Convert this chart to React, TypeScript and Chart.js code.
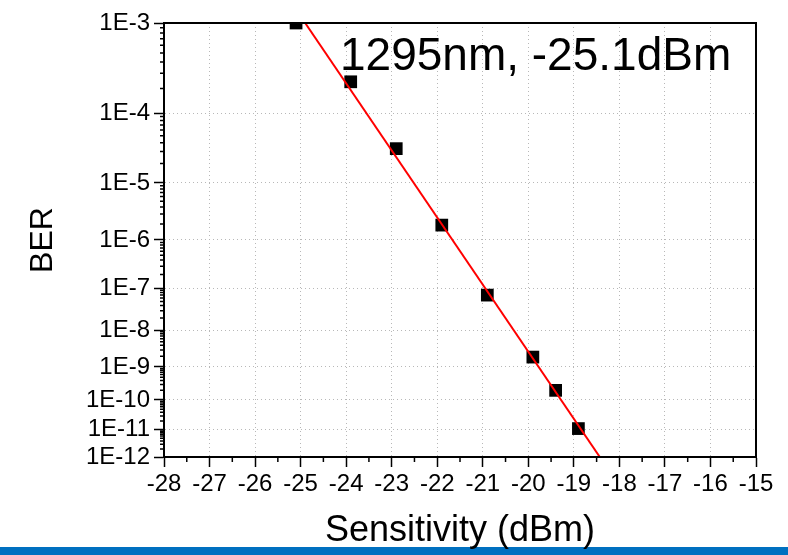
import React, { useEffect, useRef } from "react";
import { Chart, registerables } from "chart.js";

Chart.register(...registerables);

// ---- data ----
const sensitivity = [-25.1, -23.9, -22.9, -21.9, -20.9, -19.9, -19.4, -18.9];
const ber = [1e-3, 2.4e-4, 3.3e-5, 1.9e-6, 7e-8, 1.9e-9, 2e-10, 1.1e-11];
const fitX = [-24.9, -18.43];
const fitBer = [1e-3, 1e-12];
const xTicks = [-28, -27, -26, -25, -24, -23, -22, -21, -20, -19, -18, -17, -16, -15];
const yTickValues = [1e-3, 1e-4, 1e-5, 1e-6, 1e-7, 1e-8, 1e-9, 1e-10, 1e-11, 1e-12];
const yTickLabels = ["1E-3", "1E-4", "1E-5", "1E-6", "1E-7", "1E-8", "1E-9", "1E-10", "1E-11", "1E-12"];
const annotation = "1295nm, -25.1dBm";
const xTitle = "Sensitivity (dBm)";
const yTitle = "BER";

// BER probability scale: t = log10(-log10(BER))
const berT = (b: number) => Math.log10(-Math.log10(b));

const FONT = "'Liberation Sans', Arial, Helvetica, sans-serif";

const framePlugin = {
  id: "frame",
  beforeDraw(chart: any) {
    const { ctx, width, height } = chart;
    ctx.save();
    ctx.fillStyle = "#ffffff";
    ctx.fillRect(0, 0, width, height);
    ctx.fillStyle = "#0070C0";
    ctx.fillRect(0, height - 8, width, 8);
    ctx.restore();
  },
  afterDraw(chart: any) {
    const { ctx, chartArea: a, scales } = chart;
    ctx.save();
    ctx.strokeStyle = "#000";
    ctx.lineWidth = 2;
    ctx.strokeRect(a.left, a.top, a.right - a.left, a.bottom - a.top);
    ctx.lineWidth = 1.5;
    ctx.beginPath();
    const xs = scales.x;
    for (let v = xs.min + 0.5; v < xs.max; v += 1) {
      const px = xs.getPixelForValue(v);
      ctx.moveTo(px, a.bottom);
      ctx.lineTo(px, a.bottom + 5);
    }
    const ys = scales.y;
    for (let n = 4; n <= 12; n++) {
      for (let k = 2; k <= 9; k++) {
        const b = k * Math.pow(10, -n);
        const py = ys.getPixelForValue(berT(b));
        ctx.moveTo(a.left, py);
        ctx.lineTo(a.left - 4, py);
      }
    }
    ctx.stroke();
    ctx.fillStyle = "#000";
    ctx.font = `46px ${FONT}`;
    ctx.textBaseline = "alphabetic";
    ctx.textAlign = "left";
    ctx.fillText(annotation, 340, 70);
    ctx.restore();
  },
};

export default function App() {
  const ref = useRef<HTMLCanvasElement>(null);
  useEffect(() => {
    const canvas = ref.current!;
    const chart = new Chart(canvas, {
      type: "scatter",
      data: {
        datasets: [
          {
            type: "line",
            data: fitX.map((x, i) => ({ x, y: berT(fitBer[i]) })),
            borderColor: "#ff0000",
            borderWidth: 2,
            pointRadius: 0,
            showLine: true,
          } as any,
          {
            data: sensitivity.map((x, i) => ({ x, y: berT(ber[i]) })),
            pointStyle: "rect",
            pointRadius: 9,
            backgroundColor: "#000",
            borderColor: "#000",
            borderWidth: 0,
            clip: 0,
          },
        ],
      },
      options: {
        animation: false,
        responsive: false,
        devicePixelRatio: 1,
        layout: { padding: { left: 0, right: 32, top: 23, bottom: 0 } },
        plugins: { legend: { display: false }, tooltip: { enabled: false } },
        scales: {
          x: {
            type: "linear",
            min: -28,
            max: -15,
            afterFit: (s: any) => {
              s.height = 98;
            },
            afterBuildTicks: (s: any) => {
              s.ticks = xTicks.map((v) => ({ value: v }));
            },
            ticks: {
              color: "#000",
              font: { family: FONT, size: 24 },
              padding: 3,
              maxRotation: 0,
              autoSkip: false,
              callback: (v: any) => String(v),
            },
            grid: {
              color: "#b8b8b8",
              lineWidth: 1,
              tickLength: 10,
              tickColor: "#000",
              tickWidth: 1.5,
            },
            border: { display: true, color: "#000", width: 2, dash: [1, 3] },
            title: {
              display: true,
              text: xTitle,
              color: "#000",
              font: { family: FONT, size: 36 },
              padding: { top: 0, bottom: 2 },
            },
          },
          y: {
            type: "linear",
            min: berT(1e-3),
            max: berT(1e-12),
            reverse: true,
            afterFit: (s: any) => {
              s.width = 164;
            },
            afterBuildTicks: (s: any) => {
              s.ticks = yTickValues.map((b) => ({ value: berT(b) }));
            },
            ticks: {
              color: "#000",
              font: { family: FONT, size: 24 },
              padding: 4,
              autoSkip: false,
              callback: (_v: any, i: number) => yTickLabels[i],
            },
            grid: {
              color: "#b8b8b8",
              lineWidth: 1,
              tickLength: 10,
              tickColor: "#000",
              tickWidth: 1.5,
            },
            border: { display: true, color: "#000", width: 2, dash: [1, 3] },
            title: {
              display: true,
              text: yTitle,
              color: "#000",
              font: { family: FONT, size: 32 },
              padding: { top: 24, bottom: 0 },
            },
          },
        },
      },
      plugins: [framePlugin],
    });
    return () => chart.destroy();
  }, []);
  return (
    <div style={{ position: "fixed", left: 0, top: 0, width: 788, height: 555 }}>
      <canvas ref={ref} width={788} height={555} />
    </div>
  );
}
